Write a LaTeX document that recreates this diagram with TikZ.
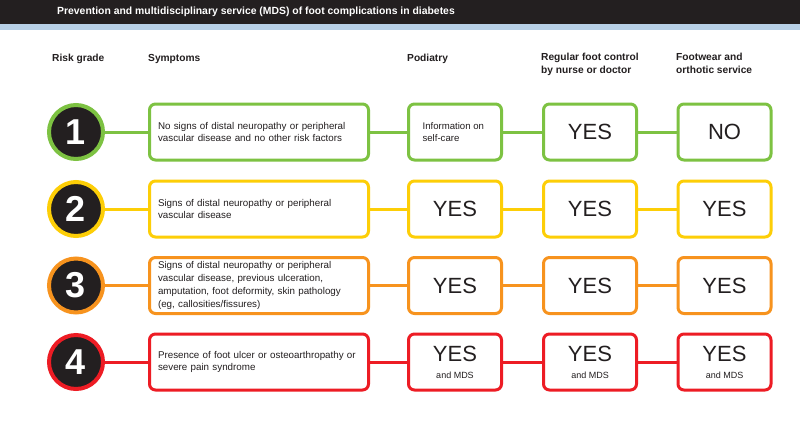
\documentclass[tikz,border=0pt]{standalone}
\usepackage{fontspec}
\setmainfont{Liberation Sans}
\definecolor{hdr}{HTML}{231F20}
\definecolor{strip}{HTML}{B7CFE6}
\definecolor{cgreen}{HTML}{7DC242}
\definecolor{cyellow}{HTML}{FDCE07}
\definecolor{corange}{HTML}{F7931E}
\definecolor{cred}{HTML}{ED1C24}
\definecolor{txt}{HTML}{231F20}
\tikzset{
  grade/.style={circle, fill=hdr, line width=4pt, minimum size=54pt, inner sep=0pt, text=white, font=\fontsize{36}{36}\selectfont\bfseries},
  symbox/.style={rectangle, rounded corners=6pt, line width=3pt, fill=white, minimum width=219pt, minimum height=56pt, inner sep=0pt, align=left, text width=202pt, text=txt, font=\fontsize{9.8}{12.7}\selectfont},
  ansbox/.style={rectangle, rounded corners=6pt, line width=3pt, fill=white, minimum width=93pt, minimum height=56pt, inner sep=0pt, align=center, text=txt, font=\fontsize{22}{22}\selectfont},
  link/.style={line width=3pt},
  colhead/.style={anchor=west, inner sep=0pt, align=left, font=\fontsize{10.2}{12.5}\selectfont\bfseries, text=txt},
  mds/.style={font=\fontsize{9}{10}\selectfont}
}
\newcommand{\yesmds}{YES\\[-5pt]{\fontsize{9}{10}\selectfont and MDS}}
\begin{document}
\begin{tikzpicture}[x=1pt,y=-1pt]
\useasboundingbox (0,0) rectangle (800,424);
\fill[white] (0,0) rectangle (800,424);
\fill[hdr] (0,0) rectangle (800,24);
\fill[strip] (0,24) rectangle (800,30);
\node[anchor=west, inner sep=0pt, text=white, font=\fontsize{10.4}{12}\selectfont\bfseries] (title) at (57,11.5) {Prevention and multidisciplinary service (MDS) of foot complications in diabetes};

\node[colhead] (h1) at (52,59) {Risk grade};
\node[colhead] (h2) at (148,59) {Symptoms};
\node[colhead] (h3) at (407,59) {Podiatry};
\node[colhead, anchor=north west] (h4) at (541,53) {Regular foot control\\by nurse or doctor};
\node[colhead, anchor=north west] (h5) at (676,53) {Footwear and\\orthotic service};

\foreach \r/\y/\c in {1/132/cgreen, 2/209/cyellow, 3/285.5/corange, 4/362/cred}{
  \node[grade, draw=\c] (g\r) at (76,\y) {\r};
}
\node[symbox, draw=cgreen] (s1) at (259,132) {No signs of distal neuropathy or peripheral\\vascular disease and no other risk factors};
\node[ansbox, draw=cgreen, font=\fontsize{9.6}{12.5}\selectfont, align=left] (p1) at (455,132) {Information on\\self-care\hspace*{28pt}};
\node[ansbox, draw=cgreen] (n1) at (590,132) {YES};
\node[ansbox, draw=cgreen] (f1) at (724.5,132) {NO};

\node[symbox, draw=cyellow] (s2) at (259,209) {Signs of distal neuropathy or peripheral\\vascular disease};
\node[ansbox, draw=cyellow] (p2) at (455,209) {YES};
\node[ansbox, draw=cyellow] (n2) at (590,209) {YES};
\node[ansbox, draw=cyellow] (f2) at (724.5,209) {YES};

\node[symbox, draw=corange] (s3) at (259,285.5) {Signs of distal neuropathy or peripheral\\vascular disease, previous ulceration,\\amputation, foot deformity, skin pathology\\(eg, callosities/fissures)};
\node[ansbox, draw=corange] (p3) at (455,285.5) {YES};
\node[ansbox, draw=corange] (n3) at (590,285.5) {YES};
\node[ansbox, draw=corange] (f3) at (724.5,285.5) {YES};

\node[symbox, draw=cred] (s4) at (259,362) {Presence of foot ulcer or osteoarthropathy or\\severe pain syndrome};
\node[ansbox, draw=cred] (p4) at (455,362) {\yesmds};
\node[ansbox, draw=cred] (n4) at (590,362) {\yesmds};
\node[ansbox, draw=cred] (f4) at (724.5,362) {\yesmds};

\foreach \r/\c in {1/cgreen, 2/cyellow, 3/corange, 4/cred}{
  \draw[link, \c] (g\r) -- (s\r);
  \draw[link, \c] (s\r) -- (p\r);
  \draw[link, \c] (p\r) -- (n\r);
  \draw[link, \c] (n\r) -- (f\r);
}
\end{tikzpicture}
\end{document}
